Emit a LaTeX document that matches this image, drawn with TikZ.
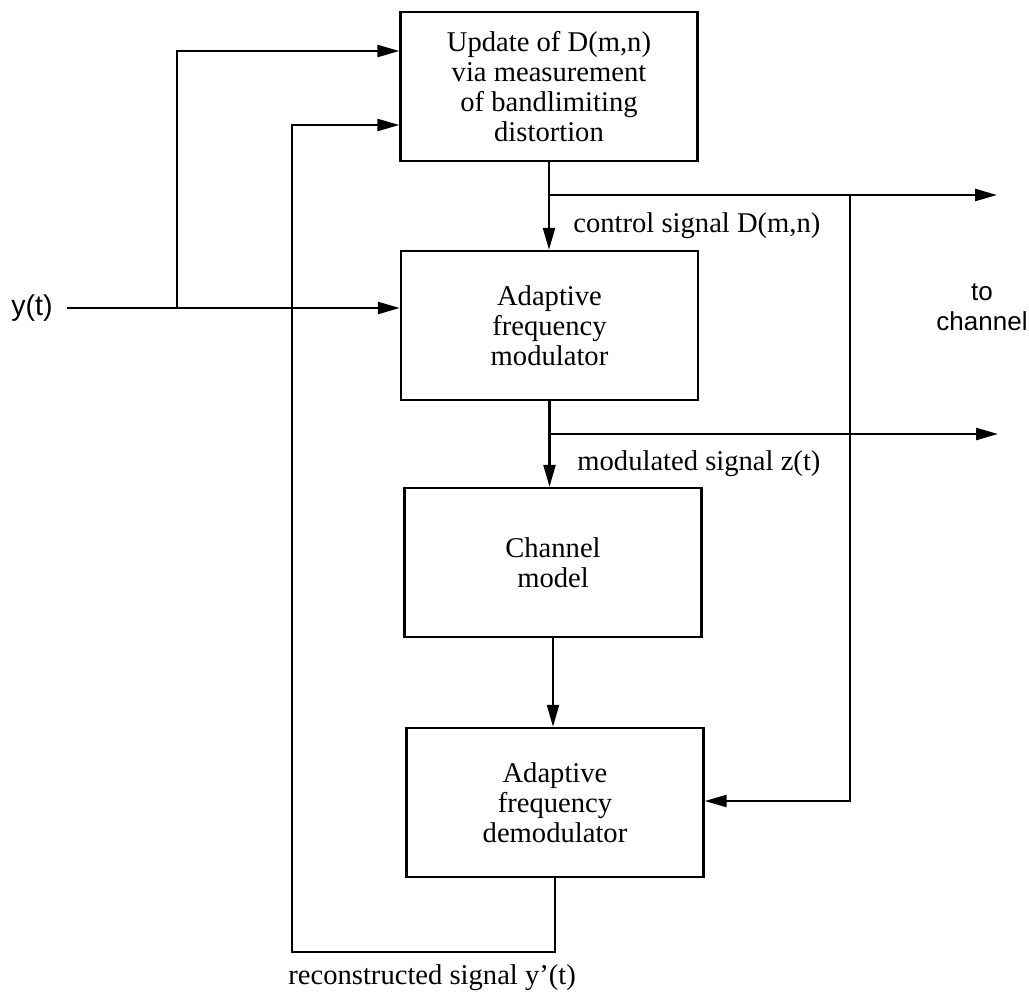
\documentclass[tikz,border=0pt]{standalone}
\usepackage{fontspec}
\setmainfont{Liberation Serif}
\newfontfamily\helv{Liberation Sans}
\usetikzlibrary{arrows.meta}
\begin{document}
\begin{tikzpicture}[x=0.5pt,y=-0.5pt,
  box/.style={draw, line width=1.2pt, minimum width=148.5pt, minimum height=74.5pt,
    align=center, inner sep=0pt, font=\fontsize{14.3}{14.9}\selectfont},
  arr/.style={line width=1.2pt, -{Triangle[length=11pt,width=6pt]}},
  ln/.style={line width=1.2pt},
  lbl/.style={inner sep=0pt, font=\fontsize{14.3}{15}\selectfont},
  sanslbl/.style={inner sep=0pt, align=center, font=\helv\fontsize{13}{15}\selectfont}]
\useasboundingbox (0,0) rectangle (1029,992);

% boxes
\node[box] (b1) at (549,86.5) {Update of D(m,n)\\via measurement\\of bandlimiting\\distortion};
\node[box] (b2) at (549.5,325.5) {Adaptive\\frequency\\modulator};
\node[box] (b3) at (553,562.5) {Channel\\model};
\node[box] (b4) at (555,802.5) {Adaptive\\frequency\\demodulator};

% input
\node[inner sep=0pt, font=\helv\fontsize{14.3}{15}\selectfont] (yt) at (32,308) {y(t)};
\coordinate (ys) at (67,308);
\coordinate (yb) at (177,308);
\coordinate (yu) at (177,51);
\draw[arr] (ys) -- (ys -| b2.west);
\draw[arr] (yb) -- (yu) -- (yu -| b1.west);

% feedback
\coordinate (fbL) at (292,952);
\coordinate (fbT) at (292,125);
\draw[arr] (b4.south) |- (fbL) -- (fbT) -- (fbT -| b1.west);

% control signal
\coordinate (ctl) at (997,195);
\coordinate (cv) at (850,195);
\coordinate (cvb) at (850,801);
\draw[arr] (b1.south) -- (b1.south |- b2.north);
\draw[arr] (b1.south |- ctl) -- (ctl);
\draw[arr] (cv) -- (cvb) -- (cvb -| b4.east);

% modulated signal
\coordinate (mod) at (998,434);
\draw[arr] (b2.south) -- (b2.south |- b3.north);
\draw[arr] (b2.south |- mod) -- (mod);
\draw[arr] (b3.south) -- (b3.south |- b4.north);

% labels
\node[lbl, anchor=west] (lc) at (573,226) {control signal D(m,n)};
\node[lbl, anchor=west] (lm) at (577,464) {modulated signal z(t)};
\node[lbl, anchor=west] (lr) at (288,978) {reconstructed signal y'(t)};
\node[sanslbl] (tc) at (982,307) {to\\channel};
\end{tikzpicture}
\end{document}
